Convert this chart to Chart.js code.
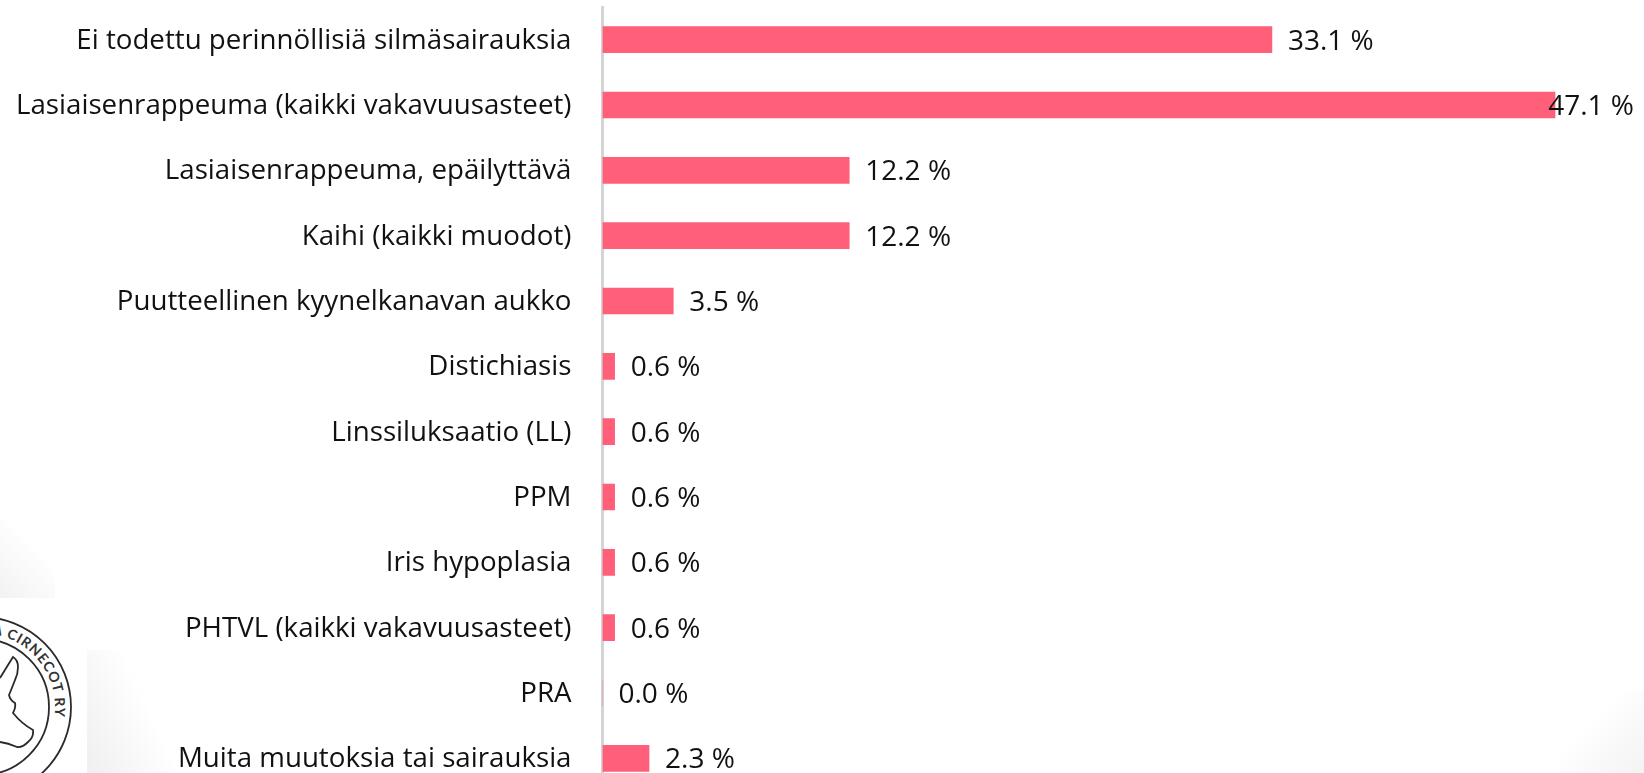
<!DOCTYPE html>
<html><head><meta charset="utf-8">
<style>
html,body{margin:0;padding:0;background:#fff;width:1644px;height:773px;overflow:hidden}
#wrap{position:relative;width:1644px;height:773px;overflow:hidden}
#bg1{position:absolute;left:0;top:510px;width:55px;height:88px;background:linear-gradient(45deg,#f2f2f2 0%,#ffffff 62%)}
#bg2{position:absolute;left:87px;top:650px;width:130px;height:123px;background:linear-gradient(65deg,#efefef 0%,#ffffff 50%)}
#bg3{position:absolute;left:1560px;top:690px;width:84px;height:83px;background:linear-gradient(315deg,#f3f3f3 0%,#ffffff 65%)}
#logo{position:absolute;left:0;top:598px;width:87px;height:175px;background:#fff}
canvas{position:absolute;left:0;top:0}
</style></head><body><div id="wrap">
<div id="bg1"></div><div id="bg2"></div><div id="bg3"></div>
<svg id="logo" viewBox="0 598 87 175">
<defs><path id="arc" d="M -56 643 A 74 74 0 0 1 54.3 717.3"/></defs>
<circle cx="-19" cy="707" r="90" fill="none" stroke="#2a2a2a" stroke-width="1.8"/>
<circle cx="-19" cy="707" r="68" fill="none" stroke="#2a2a2a" stroke-width="1.8"/>
<text font-family="Lato" font-size="14" font-weight="700" fill="#333" letter-spacing="1" text-anchor="end"><textPath href="#arc" startOffset="100%">A CIRNECOT RY</textPath></text>
<path d="M0 678 L8 665 L13 657 Q18 660 18 667 Q18 674 15 680 Q12 688 9 695 Q10 700 15 703 Q16 708 13 713 Q22 724 33 730 Q34 737 28 742 Q22 748 17 747 Q8 743 0 742" fill="none" stroke="#2a2a2a" stroke-width="1.8"/>
</svg>
<canvas id="c" width="1644" height="800"></canvas>
</div>
<script src="https://cdn.jsdelivr.net/npm/chart.js@4"></script>
<script>
const categories = ["Ei todettu perinnöllisiä silmäsairauksia","Lasiaisenrappeuma (kaikki vakavuusasteet)","Lasiaisenrappeuma, epäilyttävä","Kaihi (kaikki muodot)","Puutteellinen kyynelkanavan aukko","Distichiasis","Linssiluksaatio (LL)","PPM","Iris hypoplasia","PHTVL (kaikki vakavuusasteet)","PRA","Muita muutoksia tai sairauksia"];
const shares = [33.1,47.1,12.2,12.2,3.5,0.6,0.6,0.6,0.6,0.6,0.0,2.3];
const FAMILY = '"Open Sans", Lato, sans-serif';
const valueLabels = {
  id:'valueLabels',
  afterDatasetsDraw(chart){
    const {ctx} = chart, meta = chart.getDatasetMeta(0);
    ctx.save();
    ctx.font = '28px '+FAMILY; ctx.fillStyle = '#111'; ctx.textAlign='left'; ctx.textBaseline='middle';
    meta.data.forEach((bar,i)=>{
      const t = shares[i].toFixed(1)+' %';
      const w = ctx.measureText(t).width;
      const x = Math.min(bar.x+16, chart.chartArea.right-10-w);
      ctx.fillText(t,x,bar.y+2);
    });
    ctx.restore();
  }
};
new Chart(document.getElementById('c'),{
  type:'bar',
  data:{labels:categories,datasets:[{data:shares,backgroundColor:'#FF5F78',borderWidth:0,barThickness:26}]},
  plugins:[valueLabels],
  options:{
    indexAxis:'y',responsive:false,animation:false,
    layout:{padding:{top:7,bottom:9,left:0,right:0}},
    plugins:{legend:{display:false},tooltip:{enabled:false},title:{display:false}},
    scales:{
      x:{display:false,min:0,max:51.5},
      y:{
        afterFit(s){s.width=602.5;s.paddingTop=0;s.paddingBottom=0;},
        grid:{display:false,drawTicks:false},
        border:{display:true,color:'#d4d4d4',width:3},
        ticks:{color:'#111',font:{family:FAMILY,size:27.7},padding:31,labelOffset:1,autoSkip:false}
      }
    }
  }
});
</script></body></html>
